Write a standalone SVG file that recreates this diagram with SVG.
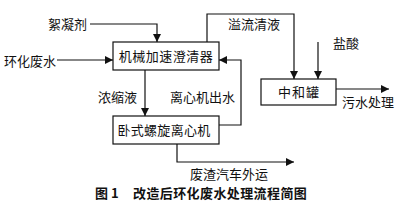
<svg xmlns="http://www.w3.org/2000/svg" width="401" height="207" viewBox="0 0 401 207">
<style>
text{font-family:"Noto Sans CJK SC","Noto Sans",sans-serif;font-size:13px;fill:#111}
.box{fill:#fff;stroke:#111;stroke-width:1.2}
.ln{fill:none;stroke:#111;stroke-width:1.2}
.cap{font-weight:bold}
</style>
<defs>
<marker id="ah" viewBox="0 0 10 10" refX="10" refY="5" markerWidth="8" markerHeight="8" markerUnits="userSpaceOnUse" orient="auto">
<path d="M0,0L10,5L0,10z" fill="#111"/>
</marker>
</defs>
<rect width="401" height="207" fill="#fff"/>
<g id="connectors">
<polyline class="ln" points="90,24 157,24 157,42" marker-end="url(#ah)"/>
<line class="ln" x1="57" y1="60" x2="113" y2="60" marker-end="url(#ah)"/>
<line class="ln" x1="145" y1="70" x2="145" y2="116" marker-end="url(#ah)"/>
<polyline class="ln" points="219,125 241,125 241,60 219,60" marker-end="url(#ah)"/>
<polyline class="ln" points="207,42 207,14 294,14 294,79" marker-end="url(#ah)"/>
<line class="ln" x1="318" y1="42" x2="318" y2="79" marker-end="url(#ah)"/>
<line class="ln" x1="336" y1="89" x2="389" y2="89" marker-end="url(#ah)"/>
<polyline class="ln" points="177,144 177,162 294,162" marker-end="url(#ah)"/>
</g>
<g id="clarifier">
<rect class="box" x="113" y="42" width="106" height="28"/>
<text x="166" y="60.5" text-anchor="middle" letter-spacing="0.5">机械加速澄清器</text>
</g>
<g id="centrifuge">
<rect class="box" x="113" y="116" width="106" height="28"/>
<text x="164" y="134.5" text-anchor="middle" letter-spacing="0.3">卧式螺旋离心机</text>
</g>
<g id="neutralizer">
<rect class="box" x="261" y="79" width="75" height="26"/>
<text x="299" y="96.5" text-anchor="middle" letter-spacing="1">中和罐</text>
</g>
<g id="labels">
<text x="48" y="28.5">絮凝剂</text>
<text x="4" y="65.5">环化废水</text>
<text x="98" y="101.5">浓缩液</text>
<text x="170" y="101.5">离心机出水</text>
<text x="228" y="28.5">溢流清液</text>
<text x="333" y="47.5">盐酸</text>
<text x="342" y="106.5">污水处理</text>
<text x="190" y="178.5">废渣汽车外运</text>
<text class="cap" x="95" y="197.5">图 1</text>
<text class="cap" x="133" y="197.5" letter-spacing="0.4">改造后环化废水处理流程简图</text>
</g>
</svg>
